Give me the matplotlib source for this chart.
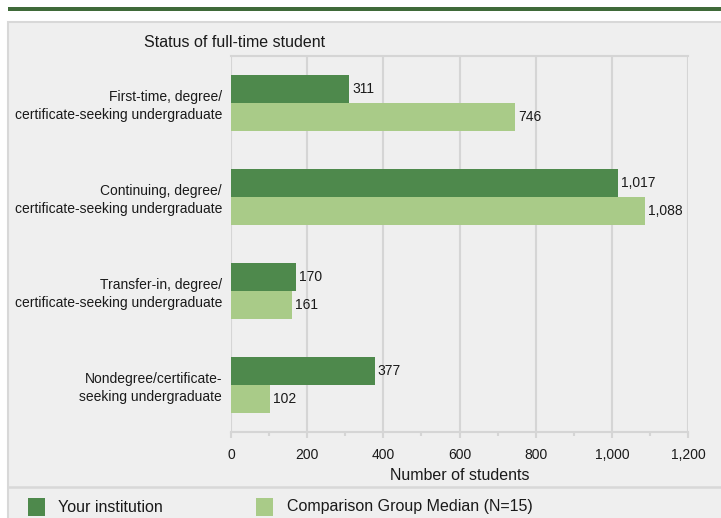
import matplotlib
matplotlib.use("Agg")
import matplotlib.pyplot as plt
from matplotlib.patches import Rectangle
from matplotlib.lines import Line2D
from matplotlib.ticker import FuncFormatter, MultipleLocator
import numpy as np

plt.rcParams['font.family'] = ['Liberation Sans', 'DejaVu Sans']

categories = [
    "First-time, degree/\ncertificate-seeking undergraduate",
    "Continuing, degree/\ncertificate-seeking undergraduate",
    "Transfer-in, degree/\ncertificate-seeking undergraduate",
    "Nondegree/certificate-\nseeking undergraduate",
]
your_institution = [311, 1017, 170, 377]
comparison_median = [746, 1088, 161, 102]
series_names = ["Your institution", "Comparison Group Median (N=15)"]
title = "Status of full-time student"
xlabel = "Number of students"

DARK = "#4e894c"
LIGHT = "#a9cb88"
BG = "#efefef"
GRID = "#d5d5d5"
TOPLINE = "#3f6a39"

W, H = 721, 518
fig = plt.figure(figsize=(W / 100, H / 100), dpi=100)
fig.patch.set_facecolor("white")

def fx(px):
    return px / W

def fy(py):
    return 1 - py / H

# top dark band
fig.add_artist(Rectangle((fx(8), fy(11)), fx(721) - fx(8), (11 - 7) / H,
                         transform=fig.transFigure, facecolor=TOPLINE,
                         edgecolor="none", zorder=0))
# panel
fig.add_artist(Rectangle((fx(8), fy(530)), fx(730) - fx(8), (530 - 22) / H,
                         transform=fig.transFigure, facecolor=BG,
                         edgecolor="#d8d8d8", linewidth=1.5, zorder=0))
# legend separator
fig.add_artist(Line2D([fx(8), fx(721)], [fy(487), fy(487)],
                      transform=fig.transFigure, color="#d8d8d8", linewidth=1.8))

left, right, top, bottom = 231, 688, 56, 432
ax = fig.add_axes([fx(left), fy(bottom), fx(right) - fx(left), (bottom - top) / H])
ax.set_facecolor(BG)

y = np.arange(len(categories))
h = 0.3
ax.barh(y - h / 2, your_institution, height=h, color=DARK, zorder=3)
ax.barh(y + h / 2, comparison_median, height=h, color=LIGHT, zorder=3)

for yi, v in zip(y - h / 2, your_institution):
    ax.text(v + 8, yi, f"{v:,}", va="center", ha="left", fontsize=10, color="#1a1a1a", zorder=4)
for yi, v in zip(y + h / 2, comparison_median):
    ax.text(v + 8, yi, f"{v:,}", va="center", ha="left", fontsize=10, color="#1a1a1a", zorder=4)

ax.set_xlim(0, 1200)
ax.set_ylim(3.5, -0.5)
ax.xaxis.set_major_locator(MultipleLocator(200))
ax.xaxis.set_minor_locator(MultipleLocator(100))
ax.xaxis.set_major_formatter(FuncFormatter(lambda v, p: f"{int(v):,}"))
ax.grid(axis="x", which="major", color=GRID, linewidth=1.5, zorder=1)
ax.set_axisbelow(True)

ax.set_yticks(y)
ax.set_yticklabels(categories, fontsize=10, color="#1a1a1a", linespacing=1.3)
ax.tick_params(axis="y", length=0, pad=6.5)
ax.tick_params(axis="x", which="major", length=4.5, width=1.5, color=GRID,
               labelsize=10, labelcolor="#1a1a1a", pad=7)
ax.tick_params(axis="x", which="minor", length=3, width=1.5, color=GRID)

for s in ["left", "right"]:
    ax.spines[s].set_visible(False)
ax.spines["top"].set_color(GRID)
ax.spines["top"].set_linewidth(1.5)
ax.spines["bottom"].set_color(GRID)
ax.spines["bottom"].set_linewidth(1.5)

ax.set_xlabel(xlabel, fontsize=11.5, color="#1a1a1a", labelpad=4)

fig.text(fx(235), fy(42), title, ha="center", va="center", fontsize=11.5, color="#1a1a1a")

# legend
for (x0, col, name, tx) in [(28, DARK, series_names[0], 58), (256, LIGHT, series_names[1], 287)]:
    fig.add_artist(Rectangle((fx(x0), fy(516)), (17) / W, 18 / H,
                             transform=fig.transFigure, facecolor=col, edgecolor="none"))
    fig.text(fx(tx), fy(507), name, ha="left", va="center", fontsize=11.5, color="#1a1a1a")

fig.savefig("out.png", dpi=100, facecolor=fig.get_facecolor())
